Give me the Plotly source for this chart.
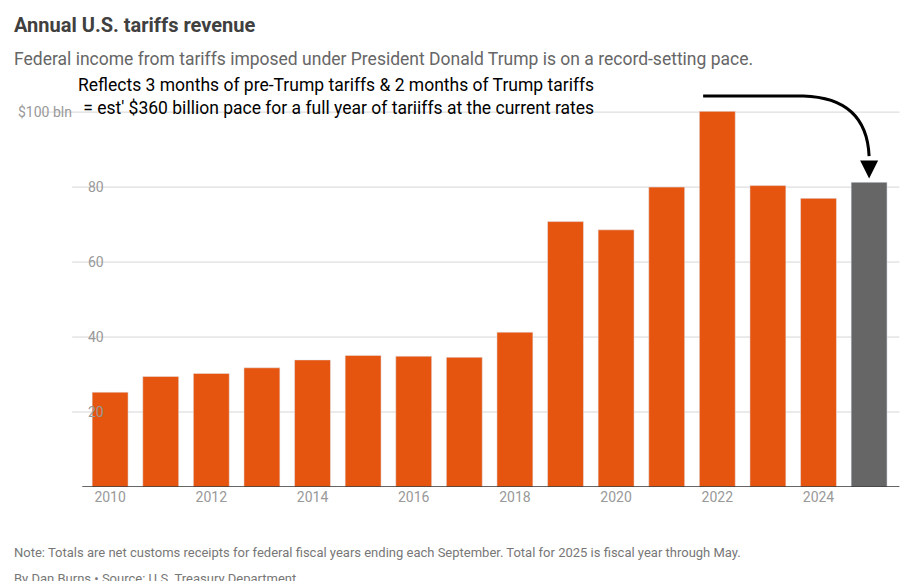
import plotly.graph_objects as go

years = list(range(2010, 2026))
revenue = [25.3, 29.5, 30.3, 31.8, 33.9, 35.1, 34.9, 34.6, 41.3, 70.8, 68.6, 80.0, 100.2, 80.4, 77.0, 81.3]
colors = ["#E5550F"] * 15 + ["#666666"]
ytick_vals = [20, 40, 60, 80, 100]
ytick_text = ["20", "40", "60", "80", "$100 bln"]
xtick_vals = [2010, 2012, 2014, 2016, 2018, 2020, 2022, 2024]

fig = go.Figure(go.Bar(x=years, y=revenue, marker_color=colors, width=0.71,
                       hoverinfo="x+y"))

shapes = []
for v in ytick_vals:
    shapes.append(dict(type="line", xref="x", yref="y", x0=2008.6 if v == 100 else 2009.25,
                       x1=2025.6, y0=v, y1=v, line=dict(color="#d6d6d6", width=1), layer="below"))
shapes.append(dict(type="line", xref="x", yref="y", x0=2009.45, x1=2025.6, y0=0, y1=0,
                   line=dict(color="#333", width=1.5)))
shapes.append(dict(type="path", xref="x", yref="paper",
                   path="M 2021.72,1.04 L 2023.7,1.04 Q 2024.95,1.035 2025.0,0.88",
                   line=dict(color="black", width=3)))

annots = []
for v, t in zip(ytick_vals, ytick_text):
    annots.append(dict(x=0.0, xref="paper", y=v, yref="y", text=t, showarrow=False,
                       xanchor="left", font=dict(size=14, color="#999"),
                       xshift=0 if v == 100 else 70))
annots += [
    dict(x=2025.0, y=82.3, ax=0, ay=-16, xref="x", yref="y", text="", showarrow=True,
         arrowhead=2, arrowsize=1.2, arrowwidth=3, arrowcolor="black"),
    dict(x=0.0, y=1.265, xref="paper", yref="paper", yanchor="top", xanchor="left",
         text="<b>Annual U.S. tariffs revenue</b>", showarrow=False, xshift=-4,
         font=dict(size=20, color="#404040", family="Roboto")),
    dict(x=0.0, y=1.17, xref="paper", yref="paper", yanchor="top", xanchor="left",
         text="Federal income from tariffs imposed under President Donald Trump is on a record-setting pace.",
         showarrow=False, xshift=-4, font=dict(size=17.5, color="#666", family="Roboto")),
    dict(x=0.0, y=1.1, xref="paper", yref="paper", yanchor="top", xanchor="left",
         text="Reflects 3 months of pre-Trump tariffs &amp; 2 months of Trump tariffs<br>= est' $360 billion pace for a full year of tariiffs at the current rates",
         showarrow=False, xshift=60, align="right",
         font=dict(size=17.5, color="black", family="Roboto")),
    dict(x=0.0, y=-0.15, xref="paper", yref="paper", yanchor="top", xanchor="left",
         text="Note: Totals are net customs receipts for federal fiscal years ending each September. Total for 2025 is fiscal year through May.",
         showarrow=False, xshift=-4, font=dict(size=13, color="#777", family="Roboto")),
    dict(x=0.0, y=-0.217, xref="paper", yref="paper", yanchor="top", xanchor="left",
         text="By Dan Burns • Source: U.S. Treasury Department",
         showarrow=False, xshift=-4, font=dict(size=13, color="#777", family="Roboto")),
]

fig.update_layout(
    width=915, height=581, margin=dict(l=8, r=20, t=103, b=102),
    plot_bgcolor="white", paper_bgcolor="white", showlegend=False,
    font=dict(family="Roboto"),
    xaxis=dict(range=[2008.14, 2025.67], tickvals=xtick_vals, showgrid=False,
               tickfont=dict(size=14, color="#999"), ticks="", zeroline=False),
    yaxis=dict(range=[0, 100.3], showticklabels=False, showgrid=False, zeroline=False),
    shapes=shapes, annotations=annots,
)
fig.write_html("out.html")
